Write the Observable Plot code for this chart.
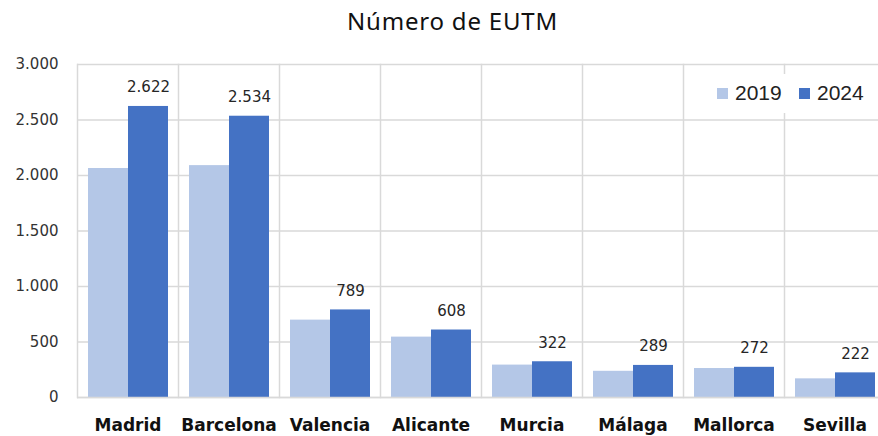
<!DOCTYPE html>
<html>
<head>
<meta charset="utf-8">
<script src="https://cdn.jsdelivr.net/npm/d3@7"></script>
<script src="https://cdn.jsdelivr.net/npm/@observablehq/plot@0.6"></script>
<style>
  html, body { margin: 0; padding: 0; background: white; }
  body { width: 878px; height: 436px; overflow: hidden; position: relative; }
  #title { position: absolute; left: 0; top: 0; width: 905px; height: 40px; text-align: center;
    font-family: "Noto Sans", sans-serif; font-size: 24px; letter-spacing: 0.8px; line-height: 41px; color: #111; }
  #chart { position: absolute; left: 0; top: 40px; width: 890px; }
  .leg { position: absolute; font-family: "Liberation Sans", Arial, sans-serif; font-size: 21px; color: #222; }
  .sw { position: absolute; width: 11px; height: 11px; }
</style>
</head>
<body>
<div id="title">Número de EUTM</div>
<div id="chart"></div>
<div id="legend" style="position:absolute; left:705px; top:74px; width:173px; height:39px; background:white;">
  <div class="sw" style="left:12px; top:14px; background:#b4c7e7;"></div>
  <div class="leg" style="left:30px; top:7px;">2019</div>
  <div class="sw" style="left:94px; top:14px; background:#4472c4;"></div>
  <div class="leg" style="left:112px; top:7px;">2024</div>
</div>
<script>
const cities = ["Madrid", "Barcelona", "Valencia", "Alicante", "Murcia", "Málaga", "Mallorca", "Sevilla"];
const years = ["2019", "2024"];
const values2019 = [2063, 2089, 697, 544, 292, 236, 261, 168];
const values2024 = [2622, 2534, 789, 608, 322, 289, 272, 222];
const yTicks = [0, 500, 1000, 1500, 2000, 2500, 3000];
const colors = ["#b4c7e7", "#4472c4"];

const fmt = d => d3.format(",")(d).replace(/,/g, ".");

const data = cities.flatMap((c, i) => [
  {city: c, year: "2019", value: values2019[i]},
  {city: c, year: "2024", value: values2024[i]}
]);

const grid = "#d9d9d9";

const chart = Plot.plot({
  width: 890,
  height: 396,
  marginLeft: 75,
  marginRight: 3,
  marginTop: 24,
  marginBottom: 39,
  style: {fontFamily: "'DejaVu Sans', sans-serif", background: "white", overflow: "visible", maxWidth: "none"},
  fx: {domain: cities, padding: 0, label: null},
  x: {domain: years, paddingInner: 0, paddingOuter: 0.25, axis: null},
  y: {domain: [0, 3000], label: null},
  color: {domain: years, range: colors},
  marks: [
    Plot.gridY(yTicks, {stroke: grid, strokeOpacity: 1, strokeWidth: 1.5}),
    Plot.frame({anchor: "left", stroke: grid, strokeOpacity: 1, strokeWidth: 1.5}),
    Plot.barY(data, {fx: "city", x: "year", y: "value", fill: "year"}),
    Plot.ruleY([0], {stroke: grid, strokeWidth: 1.5}),
    Plot.text(data.filter(d => d.year === "2024"), {
      fx: "city", x: "year", y: "value", text: d => fmt(d.value),
      dy: -19, fontSize: 15, fill: "#262626"
    }),
    Plot.axisY(yTicks, {tickSize: 0, tickPadding: 19, tickFormat: fmt, fontSize: 15, fill: "#333", label: null}),
    Plot.axisFx({anchor: "bottom", tickSize: 0, tickPadding: 21, fontSize: 17, fontWeight: "bold",
      fontFamily: "'DejaVu Sans', sans-serif", fill: "#111", label: null})
  ]
});
document.getElementById("chart").appendChild(chart);
</script>
</body>
</html>
